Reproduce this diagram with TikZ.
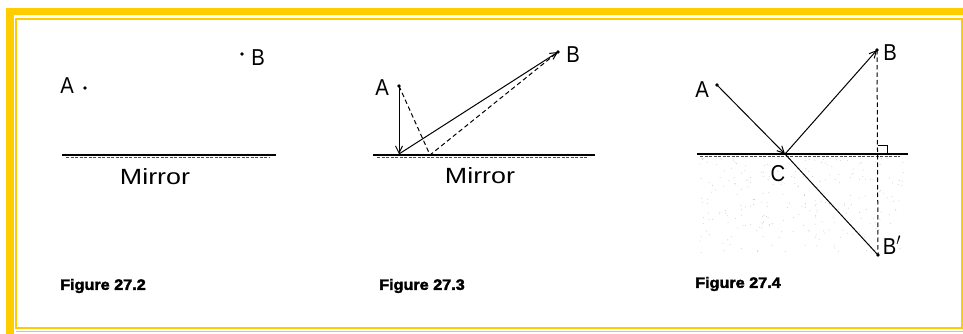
\documentclass[tikz,border=0pt]{standalone}
\usepackage{fontspec}
\setmainfont{Liberation Sans}
\newfontfamily\figfont[FakeBold=2.5]{Liberation Sans Bold}
\usetikzlibrary{arrows.meta}
\definecolor{frameyellow}{HTML}{FFCC00}
\tikzset{
  pt/.style={circle,fill=black,inner sep=0pt,minimum size=3.6pt},
  lab/.style={inner sep=0pt,font=\fontsize{23}{23}\selectfont,xscale=0.88},
  mirrorlab/.style={inner sep=0pt,font=\fontsize{22}{22}\selectfont,xscale=1.22},
  figlab/.style={inner sep=0pt,anchor=west,font=\fontsize{15}{15}\figfont,xscale=1.08},
  mirror/.style={line width=1.8pt},
  hatch/.style={line width=0.6pt,dash pattern=on 3pt off 1.5pt,gray!60!black},
  ray/.style={line width=1pt,-{Straight Barb[length=7pt,width=7pt,line width=1pt]}},
  plain/.style={line width=1pt},
  dashline/.style={line width=1pt,dash pattern=on 4.5pt off 3pt}
}
\begin{document}
\begin{tikzpicture}[x=1pt,y=-1pt]
\useasboundingbox (0,0) rectangle (963,334);
\fill[white] (0,0) rectangle (963,334);
% frame
\fill[frameyellow] (6,8) rectangle (963,15.5);
\fill[frameyellow] (6,8) rectangle (13.5,334);
\draw[frameyellow,line width=2pt] (16,19) -- (961.5,19) -- (961.5,328) -- (16,328) -- cycle;
\draw[frameyellow,line width=1.5pt] (16,331.5) -- (963,331.5);
% stipple for panel 3
\pgfmathsetseed{11}
\foreach \i in {1,...,260}{
  \pgfmathsetmacro\px{700+205*rnd}
  \pgfmathsetmacro\py{158+95*rnd}
  \fill[gray!40] (\px,\py) circle (0.5pt);
}
% ---------- Figure 27.2 ----------
\draw[mirror] (62,155) coordinate (m1l) -- (276,155) coordinate (m1r);
\draw[hatch] (66,157.5) -- (270,157.5);
\node[mirrorlab] (mir1) at (155,177) {Mirror};
\node[pt] (A1) at (85,88) {};
\node[lab] (lA1) at (67,86) {A};
\node[pt] (B1) at (242,54) {};
\node[lab] (lB1) at (258,58) {B};
\node[figlab] (f1) at (60,286) {Figure 27.2};
% ---------- Figure 27.3 ----------
\draw[mirror] (373,155) -- (595,155);
\draw[hatch] (377,157.5) -- (588,157.5);
\node[mirrorlab] (mir2) at (480,176) {Mirror};
\node[pt] (A2) at (399,86) {};
\node[lab] (lA2) at (382,88) {A};
\node[pt] (B2) at (558,52) {};
\node[lab] (lB2) at (573,55) {B};
\coordinate (M2) at (399,154);
\coordinate (D2) at (430,155);
\draw[dashline] (A2.center) -- (D2) -- (B2.center);
\draw[ray] (A2.center) -- (M2);
\draw[ray] (M2) -- (B2.center);
\node[figlab] (f2) at (379,286) {Figure 27.3};
% ---------- Figure 27.4 ----------
\draw[mirror] (697,154) -- (908,154);
\draw[hatch] (700,156.5) -- (900,156.5);
\node[pt] (A3) at (717,85) {};
\node[lab] (lA3) at (702,90) {A};
\coordinate (C3) at (785,154);
\node[lab] (lC3) at (778,174) {C};
\node[pt] (B3) at (877,50) {};
\node[lab] (lB3) at (890,53) {B};
\node[pt] (Bp3) at (878,255) {};
\node[lab] (lBp3) at (892,245) {B$'$};
\draw[ray] (A3.center) -- (C3);
\draw[ray] (C3) -- (B3.center);
\draw[plain] (C3) -- (Bp3.center);
\draw[dashline] (B3.center) -- (Bp3.center);
\coordinate (F3) at (877.5,154);
\draw[line width=0.9pt] (F3) ++(0,-9) -- ++(10,0) -- ++(0,9);
\node[figlab] (f3) at (695,284) {Figure 27.4};
\end{tikzpicture}
\end{document}
